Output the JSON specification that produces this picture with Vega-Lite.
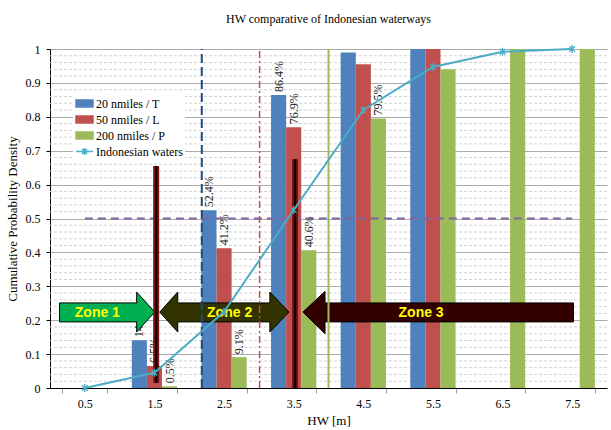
{
  "$schema": "https://vega.github.io/schema/vega-lite/v6.json",
  "width": 557,
  "height": 339,
  "autosize": {"type": "none"},
  "padding": {"left": 50, "top": 49, "right": 4, "bottom": 42},
  "background": "white",
  "title": {"text": "HW comparative of Indonesian waterways", "font": "Liberation Serif", "fontSize": 12, "fontWeight": "normal", "color": "black", "anchor": "middle", "frame": "group", "offset": 7, "baseline": "alphabetic"},
  "config": {"view": {"stroke": null}, "font": "Liberation Serif"},
  "datasets": {
    "minor": [
      {"value": 0.02}, {"value": 0.04}, {"value": 0.06}, {"value": 0.08},
      {"value": 0.12}, {"value": 0.14}, {"value": 0.16}, {"value": 0.18},
      {"value": 0.22}, {"value": 0.24}, {"value": 0.26}, {"value": 0.28},
      {"value": 0.32}, {"value": 0.34}, {"value": 0.36}, {"value": 0.38},
      {"value": 0.42}, {"value": 0.44}, {"value": 0.46}, {"value": 0.48},
      {"value": 0.52}, {"value": 0.54}, {"value": 0.56}, {"value": 0.58},
      {"value": 0.62}, {"value": 0.64}, {"value": 0.66}, {"value": 0.68},
      {"value": 0.72}, {"value": 0.74}, {"value": 0.76}, {"value": 0.78},
      {"value": 0.82}, {"value": 0.84}, {"value": 0.86}, {"value": 0.88},
      {"value": 0.92}, {"value": 0.94}, {"value": 0.96}, {"value": 0.98}
    ],
    "bars": [
      {"Hw": "0.5", "series": "20 nmiles / T", "value": 0, "label": null},
      {"Hw": "0.5", "series": "50 nmiles / L", "value": 0, "label": null},
      {"Hw": "0.5", "series": "200 nmiles / P", "value": 0, "label": null},
      {"Hw": "1.5", "series": "20 nmiles / T", "value": 0.141, "label": "14.1%"},
      {"Hw": "1.5", "series": "50 nmiles / L", "value": 0.065, "label": "6.5%"},
      {"Hw": "1.5", "series": "200 nmiles / P", "value": 0.005, "label": "0.5%"},
      {"Hw": "2.5", "series": "20 nmiles / T", "value": 0.524, "label": "52.4%"},
      {"Hw": "2.5", "series": "50 nmiles / L", "value": 0.412, "label": "41.2%"},
      {"Hw": "2.5", "series": "200 nmiles / P", "value": 0.091, "label": "9.1%"},
      {"Hw": "3.5", "series": "20 nmiles / T", "value": 0.864, "label": "86.4%"},
      {"Hw": "3.5", "series": "50 nmiles / L", "value": 0.769, "label": "76.9%"},
      {"Hw": "3.5", "series": "200 nmiles / P", "value": 0.406, "label": "40.6%"},
      {"Hw": "4.5", "series": "20 nmiles / T", "value": 0.99, "label": null},
      {"Hw": "4.5", "series": "50 nmiles / L", "value": 0.955, "label": null},
      {"Hw": "4.5", "series": "200 nmiles / P", "value": 0.795, "label": "79.5%"},
      {"Hw": "5.5", "series": "20 nmiles / T", "value": 1.0, "label": null},
      {"Hw": "5.5", "series": "50 nmiles / L", "value": 1.0, "label": null},
      {"Hw": "5.5", "series": "200 nmiles / P", "value": 0.94, "label": null},
      {"Hw": "6.5", "series": "200 nmiles / P", "value": 1.0, "label": null},
      {"Hw": "7.5", "series": "200 nmiles / P", "value": 1.0, "label": null}
    ],
    "line": [
      {"Hw": 0.5, "value": 0.0, "series": "Indonesian waters"},
      {"Hw": 1.5, "value": 0.045, "series": "Indonesian waters"},
      {"Hw": 2.5, "value": 0.225, "series": "Indonesian waters"},
      {"Hw": 3.5, "value": 0.525, "series": "Indonesian waters"},
      {"Hw": 4.5, "value": 0.82, "series": "Indonesian waters"},
      {"Hw": 5.5, "value": 0.947, "series": "Indonesian waters"},
      {"Hw": 6.5, "value": 0.992, "series": "Indonesian waters"},
      {"Hw": 7.5, "value": 1.0, "series": "Indonesian waters"}
    ],
    "arrows": [
      {"zone": "Zone 1", "x": 0.137, "value": 0.195, "value2": 0.251},
      {"zone": "Zone 1", "x": 1.245, "value": 0.195, "value2": 0.251},
      {"zone": "Zone 1", "x": 1.245, "value": 0.165, "value2": 0.283},
      {"zone": "Zone 1", "x": 1.504, "value": 0.224, "value2": 0.224},
      {"zone": "Zone 2", "x": 1.576, "value": 0.224, "value2": 0.224},
      {"zone": "Zone 2", "x": 1.835, "value": 0.165, "value2": 0.283},
      {"zone": "Zone 2", "x": 1.835, "value": 0.195, "value2": 0.251},
      {"zone": "Zone 2", "x": 3.158, "value": 0.195, "value2": 0.251},
      {"zone": "Zone 2", "x": 3.158, "value": 0.165, "value2": 0.283},
      {"zone": "Zone 2", "x": 3.432, "value": 0.224, "value2": 0.224},
      {"zone": "Zone 3", "x": 3.633, "value": 0.224, "value2": 0.224},
      {"zone": "Zone 3", "x": 3.95, "value": 0.16, "value2": 0.285},
      {"zone": "Zone 3", "x": 3.95, "value": 0.195, "value2": 0.251},
      {"zone": "Zone 3", "x": 7.518, "value": 0.195, "value2": 0.251}
    ],
    "zones": [
      {"zone": "Zone 1", "x": 0.68, "value": 0.222},
      {"zone": "Zone 2", "x": 2.58, "value": 0.222},
      {"zone": "Zone 3", "x": 5.33, "value": 0.222}
    ],
    "bounds": [
      {"x": 1.525, "value": 0.015, "value2": 0.655},
      {"x": 3.52, "value": 0.0, "value2": 0.675}
    ],
    "threshold": [
      {"x": 0.5, "x2": 7.5, "value": 0.5}
    ],
    "limits": [
      {"name": "20 nmiles", "x": 2.18, "value": 0, "value2": 1},
      {"name": "50 nmiles", "x": 3.01, "value": 0, "value2": 1},
      {"name": "200 nmiles", "x": 4.0, "value": 0, "value2": 1}
    ]
  },
  "encoding": {
    "y": {
      "field": "value", "type": "quantitative", "stack": null,
      "scale": {"domain": [0, 1], "nice": false, "zero": true},
      "axis": {
        "title": "Cumulative Probability Density",
        "values": [0, 0.1, 0.2, 0.3, 0.4, 0.5, 0.6, 0.7, 0.8, 0.9, 1],
        "format": "~g",
        "labelOverlap": false,
        "labelFlush": false,
        "grid": true,
        "gridColor": "#ABABAB",
        "domainColor": "black",
        "tickColor": "black",
        "tickSize": 4,
        "labelPadding": 6,
        "labelFont": "Liberation Serif",
        "labelFontSize": 12,
        "labelColor": "black",
        "titleFont": "Liberation Serif",
        "titleFontSize": 13,
        "titleFontWeight": "normal",
        "titleColor": "black",
        "titlePadding": 6
      }
    }
  },
  "layer": [
    {
      "data": {"name": "minor"},
      "mark": {"type": "rule", "color": "#D2D2D2", "strokeWidth": 1, "strokeDash": [3, 2]}
    },
    {
      "data": {"name": "bars"},
      "encoding": {
        "x": {
          "field": "Hw", "type": "ordinal",
          "scale": {"domain": ["0.5", "1.5", "2.5", "3.5", "4.5", "5.5", "6.5", "7.5"], "paddingInner": 0.35, "paddingOuter": 0.175},
          "axis": {"title": "HW [m]", "tickBand": "extent", "labelAngle": 0, "domainColor": "black", "domainWidth": 1, "tickColor": "#999999", "tickSize": 5, "labelFont": "Liberation Serif", "labelFontSize": 12, "labelColor": "black", "labelPadding": 5, "titleFont": "Liberation Serif", "titleFontSize": 13, "titleFontWeight": "normal", "titleColor": "black", "titlePadding": 5, "grid": false}
        },
        "xOffset": {"field": "series", "type": "nominal", "scale": {"domain": ["20 nmiles / T", "50 nmiles / L", "200 nmiles / P"], "paddingInner": 0, "paddingOuter": 0}}
      },
      "layer": [
        {
          "mark": {"type": "bar"},
          "encoding": {
            "color": {
              "field": "series", "type": "nominal",
              "scale": {"domain": ["20 nmiles / T", "50 nmiles / L", "200 nmiles / P", "Indonesian waters"], "range": ["#4F81BD", "#C0504D", "#9BBB59", "#4BACC6"]},
              "legend": {
                "title": null, "orient": "none", "legendX": 23, "legendY": 43,
                "fillColor": "white", "padding": 2,
                "labelFont": "Liberation Serif", "labelFontSize": 12, "labelColor": "black", "labelOffset": 2, "labelLimit": 200,
                "rowPadding": 0, "symbolSize": 289, "symbolStrokeWidth": 1.5,
                "encode": {
                  "symbols": {
                    "update": {
                      "shape": [
                        {"test": "datum.label === 'Indonesian waters'", "value": "M-1,0L1,0M-0.3,-0.3L0.3,0.3M-0.3,0.3L0.3,-0.3M0,-0.42L0,0.42"},
                        {"value": "M-1,-0.4L1,-0.4L1,0.4L-1,0.4Z"}
                      ],
                      "fill": [
                        {"test": "datum.label === 'Indonesian waters'", "value": "transparent"},
                        {"scale": "color", "field": "value"}
                      ],
                      "stroke": [
                        {"test": "datum.label === 'Indonesian waters'", "scale": "color", "field": "value"},
                        {"value": "transparent"}
                      ],
                      "opacity": {"value": 1},
                      "fillOpacity": {"value": 1},
                      "strokeWidth": {"value": 1.5}
                    }
                  }
                }
              }
            }
          }
        },
        {
          "transform": [{"filter": "datum.label != null"}],
          "mark": {"type": "text", "angle": 270, "align": "left", "baseline": "middle", "dx": 3, "font": "Liberation Serif", "fontSize": 12, "color": "#222222"},
          "encoding": {"text": {"field": "label"}}
        }
      ]
    },
    {
      "layer": [
        {
          "data": {"name": "threshold"},
          "mark": {"type": "rule", "color": "#8064A2", "strokeWidth": 2, "strokeDash": [8, 5]},
          "encoding": {
            "x": {"field": "x", "type": "quantitative", "scale": {"domain": [0, 8], "nice": false, "zero": false}, "axis": null},
            "x2": {"field": "x2"}
          }
        },
        {
          "data": {"name": "arrows"},
          "mark": {"type": "area", "stroke": "black", "strokeWidth": 1, "interpolate": "linear", "opacity": 1, "fillOpacity": 1, "orient": "vertical"},
          "encoding": {
            "x": {"field": "x", "type": "quantitative", "scale": {"domain": [0, 8], "nice": false, "zero": false}, "axis": null},
            "y2": {"field": "value2"},
            "fill": {"field": "zone", "type": "nominal", "scale": {"domain": ["Zone 1", "Zone 2", "Zone 3"], "range": ["#00B050", "#333300", "#330000"]}, "legend": null}
          }
        },
        {
          "data": {"name": "zones"},
          "mark": {"type": "text", "font": "Liberation Sans", "fontWeight": "bold", "fontSize": 14, "color": "#FFFF00", "align": "center", "baseline": "middle"},
          "encoding": {
            "x": {"field": "x", "type": "quantitative", "scale": {"domain": [0, 8], "nice": false, "zero": false}, "axis": null},
            "text": {"field": "zone"}
          }
        },
        {
          "data": {"name": "bounds"},
          "mark": {"type": "rule", "color": "#7A1515", "strokeWidth": 6},
          "encoding": {
            "x": {"field": "x", "type": "quantitative", "scale": {"domain": [0, 8], "nice": false, "zero": false}, "axis": null},
            "y2": {"field": "value2"}
          }
        },
        {
          "data": {"name": "bounds"},
          "mark": {"type": "rule", "color": "#1A0000", "strokeWidth": 2.5},
          "encoding": {
            "x": {"field": "x", "type": "quantitative", "scale": {"domain": [0, 8], "nice": false, "zero": false}, "axis": null},
            "y2": {"field": "value2"}
          }
        },
        {
          "data": {"name": "limits"},
          "transform": [{"filter": "datum.name === '20 nmiles'"}],
          "mark": {"type": "rule", "color": "#1F497D", "strokeWidth": 2, "strokeDash": [9, 4]},
          "encoding": {
            "x": {"field": "x", "type": "quantitative", "scale": {"domain": [0, 8], "nice": false, "zero": false}, "axis": null},
            "y2": {"field": "value2"}
          }
        },
        {
          "data": {"name": "limits"},
          "transform": [{"filter": "datum.name === '50 nmiles'"}],
          "mark": {"type": "rule", "color": "#C0504D", "strokeWidth": 1.5, "strokeDash": [7, 3, 2, 3]},
          "encoding": {
            "x": {"field": "x", "type": "quantitative", "scale": {"domain": [0, 8], "nice": false, "zero": false}, "axis": null},
            "y2": {"field": "value2"}
          }
        },
        {
          "data": {"name": "limits"},
          "transform": [{"filter": "datum.name === '200 nmiles'"}],
          "mark": {"type": "rule", "color": "#9BBB59", "strokeWidth": 2},
          "encoding": {
            "x": {"field": "x", "type": "quantitative", "scale": {"domain": [0, 8], "nice": false, "zero": false}, "axis": null},
            "y2": {"field": "value2"}
          }
        },
        {
          "data": {"name": "line"},
          "mark": {"type": "line", "strokeWidth": 2},
          "encoding": {
            "x": {"field": "Hw", "type": "quantitative", "scale": {"domain": [0, 8], "nice": false, "zero": false}, "axis": null},
            "color": {"field": "series", "type": "nominal"}
          }
        },
        {
          "data": {"name": "line"},
          "mark": {"type": "point", "shape": "M-0.7,-0.7L0.7,0.7M-0.7,0.7L0.7,-0.7M0,-1L0,1", "filled": false, "size": 64, "strokeWidth": 1.3, "opacity": 1},
          "encoding": {
            "x": {"field": "Hw", "type": "quantitative", "scale": {"domain": [0, 8], "nice": false, "zero": false}, "axis": null},
            "color": {"field": "series", "type": "nominal"}
          }
        }
      ]
    }
  ],
  "resolve": {"scale": {"x": "independent"}}
}
